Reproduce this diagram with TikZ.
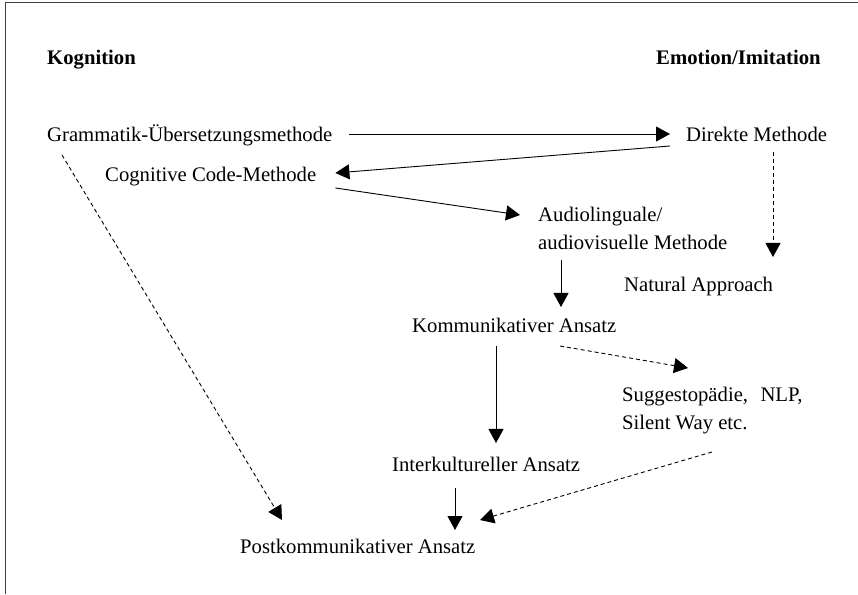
\documentclass[tikz,border=0pt]{standalone}
\usepackage{fontspec}
\setmainfont{Liberation Serif}
\usetikzlibrary{arrows.meta}

\begin{document}
\begin{tikzpicture}[x=1pt,y=1pt,
  txt/.style={font=\fontsize{20.7}{28}\selectfont,anchor=base west,inner sep=0pt,align=left},
  hdr/.style={txt,font=\fontsize{20.7}{28}\selectfont\bfseries},
  arr/.style={line width=0.9pt,-{Triangle[length=14pt,width=15pt]}},
  darr/.style={arr,dash pattern=on 4pt off 3pt}]
\useasboundingbox (0,0) rectangle (858,594);
\draw[line width=1pt,black!75] (5,0) -- (5,591) -- (858,591);

\node[hdr] (kog) at (47,529) {Kognition};
\node[hdr] (emo) at (656,529) {Emotion/Imitation};

\node[txt] (gum) at (47,452) {Grammatik-Übersetzungsmethode};
\node[txt] (dm) at (686,452) {Direkte Methode};
\node[txt] (ccm) at (105,412) {Cognitive Code-Methode};
% base of a two-line node is its last line
\node[txt] (alm) at (538,344) {Audiolinguale/\\audiovisuelle Methode};
\node[txt] (na) at (624,302) {Natural Approach};
\node[txt] (ka) at (412,261) {Kommunikativer Ansatz};
\node[txt] (sug) at (622,164) {Suggestopädie,\hspace{0.6em}NLP,\\Silent Way etc.};
\node[txt] (ik) at (392,123) {Interkultureller Ansatz};
\node[txt] (pk) at (240,41) {Postkommunikativer Ansatz};

\draw[arr] ([xshift=16pt,yshift=8pt]gum.base east) -- ([xshift=-16pt,yshift=8pt]dm.base west);
\draw[arr] ([xshift=-16pt,yshift=-4pt]dm.base west) -- ([xshift=19pt,yshift=9pt]ccm.base east);
\draw[arr] ([xshift=19pt,yshift=-6pt]ccm.base east) -- ([xshift=-18pt,yshift=35pt]alm.base west);
\draw[arr] ([xshift=23pt,yshift=-10pt]alm.base west) -- ([xshift=149pt,yshift=26pt]ka.base west);
\draw[darr] ([xshift=87pt,yshift=-10pt]dm.base west) -- ([xshift=149pt,yshift=35pt]na.base west);
\draw[arr] ([xshift=84pt,yshift=-13pt]ka.base west) -- ([xshift=104pt,yshift=28pt]ik.base west);
\draw[darr] ([xshift=148pt,yshift=-13pt]ka.base west) -- ([xshift=66pt,yshift=62pt]sug.base west);
\draw[darr] ([xshift=90pt,yshift=-22pt]sug.base west) -- ([xshift=240pt,yshift=33pt]pk.base west);
\draw[arr] ([xshift=63pt,yshift=-17pt]ik.base west) -- ([xshift=215pt,yshift=23pt]pk.base west);
\draw[darr] ([xshift=15pt,yshift=-13pt]gum.base west) -- ([xshift=42pt,yshift=33pt]pk.base west);
\end{tikzpicture}
\end{document}
